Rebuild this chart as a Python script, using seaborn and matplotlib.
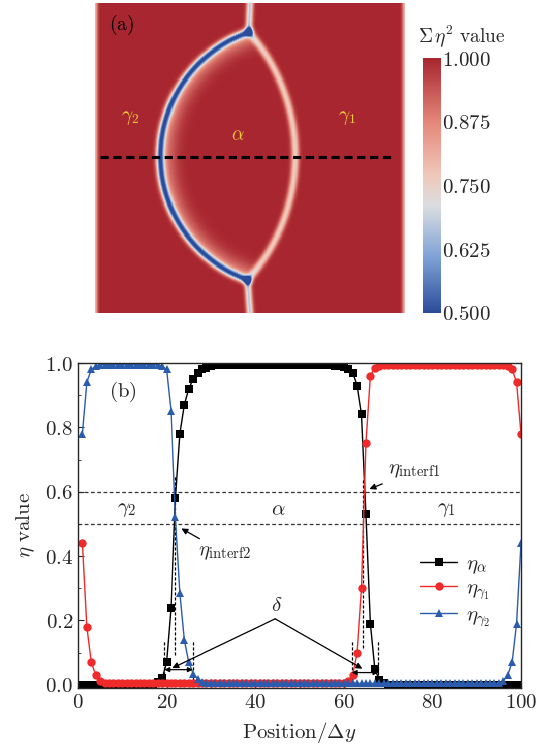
import numpy as np
import matplotlib
matplotlib.use("Agg")
import matplotlib.pyplot as plt
from matplotlib.colors import LinearSegmentedColormap
from matplotlib.ticker import MultipleLocator, FuncFormatter
import seaborn as sns

# ---------------- 1D order-parameter profiles along the cut ----------------
positions = list(range(1, 101))

eta_alpha = [
    0, 0, 0, 0, 0, 0, 0, 0, 0, 0,
    0, 0, 0, 0, 0, 0, 0, 0.008, 0.02, 0.07,
    0.24, 0.58, 0.78, 0.87, 0.92, 0.95, 0.97, 0.98, 0.985, 0.99,
    0.993, 0.995, 0.995, 0.995, 0.995, 0.995, 0.995, 0.995, 0.995, 0.995,
    0.995, 0.995, 0.995, 0.995, 0.995, 0.995, 0.995, 0.995, 0.995, 0.995,
    0.995, 0.995, 0.995, 0.995, 0.995, 0.994, 0.993, 0.992, 0.99, 0.987,
    0.98, 0.97, 0.93, 0.84, 0.53, 0.19, 0.05, 0.015, 0.005, 0,
    0, 0, 0, 0, 0, 0, 0, 0, 0, 0,
    0, 0, 0, 0, 0, 0, 0, 0, 0, 0,
    0, 0, 0, 0, 0, 0, 0, 0, 0, 0,
]

eta_gamma1 = [
    0.44, 0.18, 0.07, 0.03, 0.012, 0.006, 0.004, 0.004, 0.004, 0.004,
    0.004, 0.004, 0.004, 0.004, 0.004, 0.004, 0.004, 0.004, 0.004, 0.004,
    0.004, 0.004, 0.004, 0.004, 0.004, 0.004, 0.004, 0.004, 0.004, 0.004,
    0.004, 0.004, 0.004, 0.004, 0.004, 0.004, 0.004, 0.004, 0.004, 0.004,
    0.004, 0.004, 0.004, 0.004, 0.004, 0.004, 0.004, 0.004, 0.004, 0.004,
    0.004, 0.004, 0.004, 0.004, 0.004, 0.004, 0.004, 0.004, 0.005, 0.006,
    0.012, 0.03, 0.10, 0.30, 0.75, 0.96, 0.985, 0.99, 0.993, 0.995,
    0.995, 0.995, 0.995, 0.995, 0.995, 0.995, 0.995, 0.995, 0.995, 0.995,
    0.995, 0.995, 0.995, 0.995, 0.995, 0.995, 0.995, 0.995, 0.995, 0.995,
    0.995, 0.995, 0.995, 0.995, 0.995, 0.993, 0.99, 0.98, 0.94, 0.78,
]

eta_gamma2 = [
    0.78, 0.94, 0.98, 0.99, 0.995, 0.995, 0.995, 0.995, 0.995, 0.995,
    0.995, 0.995, 0.995, 0.995, 0.995, 0.995, 0.995, 0.995, 0.99, 0.98,
    0.85, 0.52, 0.285, 0.14, 0.07, 0.035, 0.018, 0.01, 0.007, 0.005,
    0.004, 0.004, 0.004, 0.004, 0.004, 0.004, 0.004, 0.004, 0.004, 0.004,
    0.004, 0.004, 0.004, 0.004, 0.004, 0.004, 0.004, 0.004, 0.004, 0.004,
    0.004, 0.004, 0.004, 0.004, 0.004, 0.004, 0.004, 0.004, 0.004, 0.004,
    0.004, 0.004, 0.004, 0.004, 0.004, 0.004, 0.004, 0.004, 0.004, 0.004,
    0.004, 0.004, 0.004, 0.004, 0.004, 0.004, 0.004, 0.004, 0.004, 0.004,
    0.004, 0.004, 0.004, 0.004, 0.004, 0.004, 0.004, 0.004, 0.004, 0.004,
    0.004, 0.004, 0.004, 0.004, 0.006, 0.012, 0.03, 0.07, 0.19, 0.44,
]

series_labels = [r"$\eta_\alpha$", r"$\eta_{\gamma_1}$", r"$\eta_{\gamma_2}$"]
series_colors = ["#000000", "#ee2a2a", "#2a5bac"]
series_markers = ["s", "o", "^"]
series_msize = [5.2, 6.0, 6.2]

interface_levels = [0.6, 0.5]
colorbar_ticks = [0.5, 0.625, 0.75, 0.875, 1.0]

# ---------------- 2D microstructure geometry (domain 100 x 100) ----------------
top_junction = (49.6, 9.3)
bottom_junction = (49.2, 89.4)
left_apex = (21.0, 49.5)
right_apex = (64.6, 49.5)
grain_boundary_x = 50.0


def circle_through(p1, p2, p3):
    (x1, y1), (x2, y2), (x3, y3) = p1, p2, p3
    d = 2 * (x1 * (y2 - y3) + x2 * (y3 - y1) + x3 * (y1 - y2))
    ux = ((x1**2 + y1**2) * (y2 - y3) + (x2**2 + y2**2) * (y3 - y1)
          + (x3**2 + y3**2) * (y1 - y2)) / d
    uy = ((x1**2 + y1**2) * (x3 - x2) + (x2**2 + y2**2) * (x1 - x3)
          + (x3**2 + y3**2) * (x2 - x1)) / d
    return ux, uy, np.hypot(x1 - ux, y1 - uy)


def arc_points(cx, cy, r, y0, y1, side, n=260):
    ys = np.linspace(y0, y1, n)
    xs = cx + side * np.sqrt(np.clip(r**2 - (ys - cy) ** 2, 0, None))
    return xs, ys


def min_dist(X, Y, xs, ys):
    d2 = np.full(X.shape, np.inf)
    for sx, sy in zip(xs, ys):
        d2 = np.minimum(d2, (X - sx) ** 2 + (Y - sy) ** 2)
    return np.sqrt(d2)


N = 300
grid = (np.arange(N) + 0.5) * 100.0 / N
X, Y = np.meshgrid(grid, grid)

cLx, cLy, rL = circle_through(top_junction, left_apex, bottom_junction)
cRx, cRy, rR = circle_through(top_junction, right_apex, bottom_junction)
lx, ly = arc_points(cLx, cLy, rL, top_junction[1], bottom_junction[1], -1)
rx, ry = arc_points(cRx, cRy, rR, top_junction[1], bottom_junction[1], +1)
vx = np.concatenate([np.linspace(grain_boundary_x, top_junction[0], 40),
                     np.linspace(bottom_junction[0], grain_boundary_x, 40)])
vy = np.concatenate([np.linspace(0, top_junction[1], 40),
                     np.linspace(bottom_junction[1], 100, 40)])

dL = min_dist(X, Y, lx, ly)
dR = min_dist(X, Y, rx, ry)
dV = min_dist(X, Y, vx, vy)
inside = np.minimum(rL - np.hypot(X - cLx, Y - cLy), rR - np.hypot(X - cRx, Y - cRy))
alpha_side = 0.5 * (1 + np.tanh(inside / 1.0))

field = (1.0
         - 0.46 * np.exp(-(dL / 1.3) ** 2)
         - 0.24 * np.exp(-(dR / 1.2) ** 2)
         - 0.33 * np.exp(-(dV / 1.1) ** 2)
         - 0.14 * np.exp(-(dL / 4.5) ** 2) * alpha_side
         - 0.20 * np.exp(-(X / 0.9) ** 2)
         - 0.20 * np.exp(-((100 - X) / 0.9) ** 2))
field = np.clip(field, 0.5, 1.0)

cmap = LinearSegmentedColormap.from_list(
    "sum_eta",
    [(0.0, "#2b4c9b"), (0.22, "#7fa3d6"), (0.42, "#dcdde0"),
     (0.55, "#efc6b8"), (0.75, "#e4877a"), (1.0, "#a8262f")])

# ---------------- figure ----------------
sns.set_style("ticks")
plt.rcParams["mathtext.fontset"] = "cm"
plt.rcParams["font.family"] = ["DejaVu Serif"]

W, H = 551, 747
fig = plt.figure(figsize=(W / 100, H / 100), dpi=100)
axA = fig.add_axes([95 / W, 1 - 313 / H, 310 / W, 310 / H])
cax = fig.add_axes([423 / W, 1 - 313 / H, 18 / W, 255 / H])
axB = fig.add_axes([78 / W, 1 - 688 / H, 443 / W, 325 / H])

# panel (a)
sns.heatmap(field, ax=axA, cmap=cmap, vmin=0.5, vmax=1.0, cbar_ax=cax,
            xticklabels=False, yticklabels=False, rasterized=True)
axA.tick_params(length=0)
cbar = axA.collections[0].colorbar
cbar.set_ticks(colorbar_ticks)
cbar.set_ticklabels([f"${v:.3f}$" for v in colorbar_ticks])
cbar.ax.tick_params(length=0, labelsize=15, pad=1)
cbar.outline.set_visible(False)
fig.text(418 / W, 1 - 36 / H, r"$\Sigma\,\eta^2\ \mathrm{value}$", fontsize=14,
         ha="left", va="center")

axA.axhline(N * 0.497, xmin=0.016, xmax=0.968, color="black", lw=2.2,
            linestyle=(0, (2.7, 1.5)))
axA.text(0.086, 0.929, r"$\mathrm{(a)}$", transform=axA.transAxes, fontsize=14,
         ha="center", va="center", color="black")
yellow = "#ecc83a"
axA.text(0.113, 0.629, r"$\gamma_2$", transform=axA.transAxes, fontsize=14,
         ha="center", va="center", color=yellow)
axA.text(0.461, 0.574, r"$\alpha$", transform=axA.transAxes, fontsize=14,
         ha="center", va="center", color=yellow)
axA.text(0.812, 0.629, r"$\gamma_1$", transform=axA.transAxes, fontsize=14,
         ha="center", va="center", color=yellow)

# panel (b)
for vals, lab, col, mk, ms in zip([eta_alpha, eta_gamma1, eta_gamma2], series_labels,
                                  series_colors, series_markers, series_msize):
    sns.lineplot(x=positions, y=vals, ax=axB, color=col, marker=mk, markersize=ms,
                 markeredgewidth=0, linewidth=1.0, label=lab)

axB.set_xlim(0, 100)
axB.set_ylim(-0.01, 1.0)
for lvl in interface_levels:
    axB.axhline(lvl, color="#333333", lw=0.9, linestyle=(0, (3, 2)), zorder=1)

axB.xaxis.set_major_locator(MultipleLocator(20))
axB.xaxis.set_minor_locator(MultipleLocator(10))
axB.yaxis.set_major_locator(MultipleLocator(0.2))
axB.yaxis.set_minor_locator(MultipleLocator(0.1))
axB.xaxis.set_major_formatter(FuncFormatter(lambda v, p: f"${v:.0f}$"))
axB.yaxis.set_major_formatter(FuncFormatter(lambda v, p: f"${v:.1f}$"))
axB.tick_params(which="both", direction="in", labelsize=15)
axB.tick_params(which="major", length=4)
axB.tick_params(which="minor", length=2.5)
for sp in axB.spines.values():
    sp.set_linewidth(1.0)
axB.set_xlabel(r"$\mathrm{Position}/\Delta y$", fontsize=15, labelpad=6)
axB.set_ylabel(r"$\eta\ \mathrm{value}$", fontsize=15, labelpad=6)

tfs = 15
axB.text(10.2, 0.91, r"$\mathrm{(b)}$", fontsize=tfs, ha="center", va="center")
axB.text(11, 0.545, r"$\gamma_2$", fontsize=tfs, ha="center", va="center")
axB.text(45.2, 0.545, r"$\alpha$", fontsize=tfs, ha="center", va="center")
axB.text(83.2, 0.545, r"$\gamma_1$", fontsize=tfs, ha="center", va="center")

# interface positions
dash_kw = dict(color="black", lw=0.9, linestyle=(0, (2.5, 1.5)), zorder=1.5)
axB.plot([22.0, 22.0], [0.093, 0.65], **dash_kw)
axB.plot([64.4, 64.4], [0.114, 0.64], **dash_kw)

arrow_kw = dict(arrowstyle="-|>", color="black", lw=0.9, mutation_scale=9)
axB.annotate(r"$\eta_{\mathrm{interf1}}$", xy=(65.2, 0.605), xytext=(70.0, 0.665),
             fontsize=tfs, ha="left", va="center", arrowprops=arrow_kw)
axB.annotate(r"$\eta_{\mathrm{interf2}}$", xy=(22.8, 0.49), xytext=(27.0, 0.41),
             fontsize=tfs, ha="left", va="center", arrowprops=arrow_kw)

# interface widths (delta)
for x0, x1, yh in [(19.5, 25.9, 0.047), (61.8, 67.8, 0.038)]:
    axB.plot([x0, x0], [0.0, 0.135], **dash_kw)
    axB.plot([x1, x1], [0.0, 0.135], **dash_kw)
    axB.annotate("", xy=(x0, yh), xytext=(x1, yh),
                 arrowprops=dict(arrowstyle="<|-|>", color="black", lw=0.9,
                                 mutation_scale=7, shrinkA=0, shrinkB=0))
axB.text(44.8, 0.245, r"$\delta$", fontsize=tfs, ha="center", va="center")
apex = (44.5, 0.205)
for tip in [(21.3, 0.052), (64.2, 0.05)]:
    axB.annotate("", xy=tip, xytext=apex,
                 arrowprops=dict(arrowstyle="-|>", color="black", lw=0.9,
                                 mutation_scale=9, shrinkA=0, shrinkB=0))

axB.legend(loc="center left", bbox_to_anchor=(77.2, 0.29),
           bbox_transform=axB.transData, frameon=False, fontsize=tfs,
           handlelength=1.8, handletextpad=0.4, borderpad=0, borderaxespad=0,
           labelspacing=0.12)

fig.savefig("out.png", dpi=100)
